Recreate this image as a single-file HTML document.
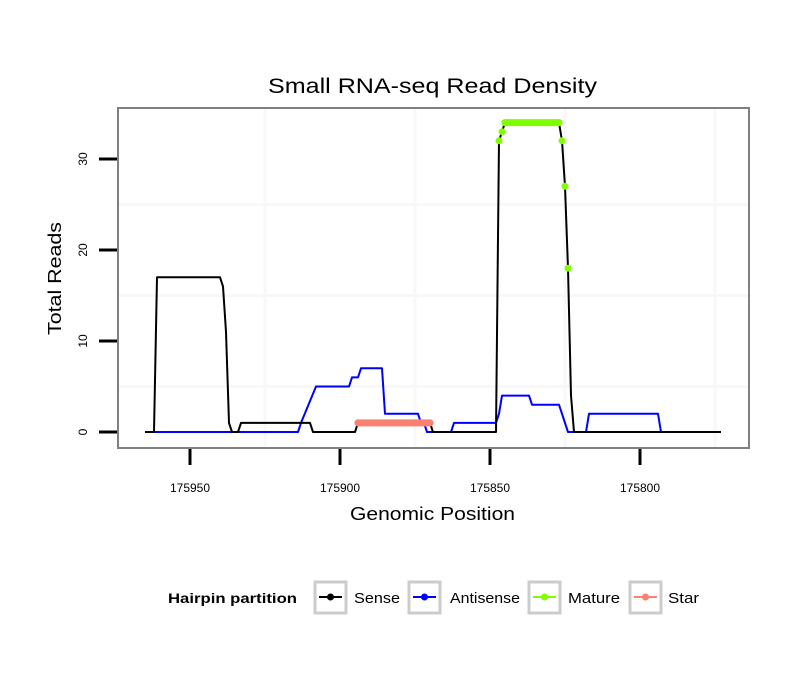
<!DOCTYPE html>
<html><head><meta charset="utf-8"><style>
body{margin:0;background:#fff;}
svg{display:block;font-family:"Liberation Sans",sans-serif;}
</style></head><body>
<svg id="chart" width="810" height="690" viewBox="0 0 810 690">
<rect x="0" y="0" width="810" height="690" fill="#fff"/>
<text x="268" y="93" font-size="21" textLength="329" lengthAdjust="spacingAndGlyphs" fill="#000">Small RNA-seq Read Density</text>
<g id="grid"></g>
<g id="series"></g>
<rect x="118" y="108" width="631" height="340" fill="none" stroke="#808080" stroke-width="2"/>
<g id="axes"></g>
<text x="350" y="520" font-size="18" textLength="165" lengthAdjust="spacingAndGlyphs">Genomic Position</text>
<text transform="translate(61,335) rotate(-90)" font-size="18" textLength="113" lengthAdjust="spacingAndGlyphs">Total Reads</text>
<g>
<text x="168" y="603" font-size="14" font-weight="bold" textLength="129" lengthAdjust="spacingAndGlyphs">Hairpin partition</text>
<g>
<rect x="315" y="582" width="31" height="31" fill="#fff" stroke="#ccc" stroke-width="3"/>
<line x1="319" y1="597" x2="342" y2="597" stroke="#000" stroke-width="2"/><circle cx="330.5" cy="597" r="3.5" fill="#000"/>
<text x="354" y="603" font-size="15" textLength="46" lengthAdjust="spacingAndGlyphs">Sense</text></g>
<g>
<rect x="409" y="582" width="31" height="31" fill="#fff" stroke="#ccc" stroke-width="3"/>
<line x1="413" y1="597" x2="436" y2="597" stroke="#0000ff" stroke-width="2"/><circle cx="424.5" cy="597" r="3.5" fill="#0000ff"/>
<text x="450" y="603" font-size="15" textLength="70" lengthAdjust="spacingAndGlyphs">Antisense</text></g>
<g>
<rect x="529" y="582" width="31" height="31" fill="#fff" stroke="#ccc" stroke-width="3"/>
<line x1="533" y1="597" x2="556" y2="597" stroke="#7fff00" stroke-width="2"/><circle cx="544.5" cy="597" r="3.5" fill="#7fff00"/>
<text x="568" y="603" font-size="15" textLength="52" lengthAdjust="spacingAndGlyphs">Mature</text></g>
<g>
<rect x="630" y="582" width="31" height="31" fill="#fff" stroke="#ccc" stroke-width="3"/>
<line x1="634" y1="597" x2="657" y2="597" stroke="#fa8072" stroke-width="2"/><circle cx="645.5" cy="597" r="3.5" fill="#fa8072"/>
<text x="668" y="603" font-size="15" textLength="31" lengthAdjust="spacingAndGlyphs">Star</text></g>
</g>
</svg>
<script>
const senseX=[175965,175962,175961,175940,175939,175938,175937,175936,175934,175933,175910,175909,175895,175894,175870,175869,175848,175847,175846,175845,175827,175826,175825,175824,175823,175822,175773];
const senseY=[0,0,17,17,16,11,1,0,0,1,1,0,0,1,1,0,0,32,33,34,34,32,27,18,4,0,0];
const antiX=[175962,175914,175913,175908,175897,175896,175894,175893,175886,175885,175874,175873,175872,175871,175863,175862,175848,175847,175846,175837,175836,175827,175824,175818,175817,175794,175793];
const antiY=[0,0,1,5,5,6,6,7,7,2,2,1,1,0,0,1,1,2,4,4,3,3,0,0,2,2,0];
const matureX=[175847,175846,175845,175827,175826,175825,175824];
const matureY=[32,33,34,34,32,27,18];
const starX=[175894,175870];
const starY=[1,1];
const xTicks=[175950,175900,175850,175800];
const xTickLabels=["175950","175900","175850","175800"];
const yTicks=[0,10,20,30];
const yTickLabels=["0","10","20","30"];
const xMinor=[175925,175875,175825,175775];
const yMinor=[5,15,25];

const NS="http://www.w3.org/2000/svg";
function sx(p){return 190+(175950-p)*3;}
function sy(v){return 432-v*9.1;}
function mk(tag,attrs,parent){const e=document.createElementNS(NS,tag);for(const k in attrs)e.setAttribute(k,attrs[k]);parent.appendChild(e);return e;}
const grid=document.getElementById('grid'),ser=document.getElementById('series'),axes=document.getElementById('axes');
xMinor.forEach(p=>{const l=mk('line',{x1:sx(p),x2:sx(p),y1:109,y2:447,stroke:'#f8f8f8','stroke-width':3},grid);

});
yMinor.forEach(v=>{const l=mk('line',{x1:119,x2:748,y1:sy(v),y2:sy(v),stroke:'#f8f8f8','stroke-width':3},grid);

});
function path(xs,ys){return xs.map((p,i)=>(i?'L':'M')+sx(p).toFixed(1)+','+sy(ys[i]).toFixed(1)).join('');}
const pa=mk('path',{d:path(antiX,antiY),fill:'none',stroke:'#0000ff','stroke-width':2,'stroke-linejoin':'round'},ser);


const ps=mk('path',{d:path(senseX,senseY),fill:'none',stroke:'#000','stroke-width':2,'stroke-linejoin':'round'},ser);


function thick(xs,ys,color,name){
 for(let i=0;i<xs.length-1;i++){if(ys[i]===ys[i+1]){const l=mk('line',{x1:sx(xs[i]),x2:sx(xs[i+1]),y1:sy(ys[i]),y2:sy(ys[i+1]),stroke:color,'stroke-width':7,'stroke-linecap':'round'},ser);
 
 }}
 xs.forEach((p,i)=>{const c=mk('circle',{cx:sx(p),cy:sy(ys[i]),r:3.5,fill:color},ser);
 
 });
}
thick(starX,starY,'#fa8072','star');
thick(matureX,matureY,'#7fff00','mature');
xTicks.forEach((p,i)=>{const l=mk('line',{x1:sx(p),x2:sx(p),y1:449,y2:465,stroke:'#000','stroke-width':3},axes);


const t=mk('text',{x:sx(p),y:492,'font-size':12,'text-anchor':'middle'},axes);t.textContent=xTickLabels[i];

});
yTicks.forEach((v,i)=>{const l=mk('line',{x1:99,x2:117,y1:sy(v),y2:sy(v),stroke:'#000','stroke-width':3},axes);


const t=mk('text',{transform:`translate(87,${sy(v)}) rotate(-90)`,'font-size':12,'text-anchor':'middle'},axes);t.textContent=yTickLabels[i];

});
</script>
</body></html>
